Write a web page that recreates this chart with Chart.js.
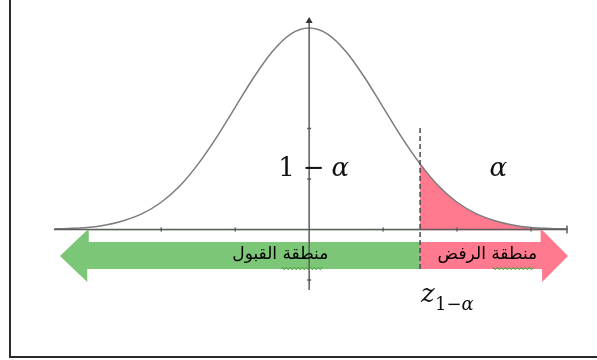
<!DOCTYPE html>
<html>
<head>
<meta charset="utf-8">
<script src="https://cdn.jsdelivr.net/npm/chart.js@4/dist/chart.umd.min.js"></script>
<style>
  html, body { margin: 0; padding: 0; background: #fff; }
  #wrap { width: 597px; height: 360px; }
</style>
</head>
<body>
<div id="wrap"><canvas id="normal-chart"></canvas></div>
<script>
  // curve heights read at quarter steps of z
  const zValues = [-3.5, -3.25, -3, -2.75, -2.5, -2.25, -2, -1.75, -1.5, -1.25, -1, -0.75, -0.5, -0.25,
    0, 0.25, 0.5, 0.75, 1, 1.25, 1.5, 1.75, 2, 2.25, 2.5, 2.75, 3, 3.25, 3.5];
  const density = [0.001, 0.002, 0.004, 0.009, 0.018, 0.032, 0.054, 0.086, 0.130, 0.183, 0.242, 0.301, 0.352, 0.387,
    0.399, 0.387, 0.352, 0.301, 0.242, 0.183, 0.130, 0.086, 0.054, 0.032, 0.018, 0.009, 0.004, 0.002, 0.001];
  const xTicks = [-2, -1, 1, 2, 3];
  const yTicks = [-0.1, 0.1, 0.2];
  const criticalZ = 1.5;
  const acceptLabel = "منطقة القبول";
  const rejectLabel = "منطقة الرفض";

  const GREEN = "rgb(124,198,120)";
  const PINK = "rgb(255,121,143)";
  const AXIS = "#5e5e5e";

  const curvePoints = zValues.map((z, i) => ({ x: z, y: density[i] }));
  const tailPoints = curvePoints.filter(p => p.x >= criticalZ);

  function squiggle(ctx, x0, x1, y) {
    ctx.beginPath();
    let up = true;
    ctx.moveTo(x0, y);
    for (let x = x0; x <= x1; x += 2) {
      ctx.lineTo(x, up ? y - 1.3 : y + 1.3);
      up = !up;
    }
    ctx.strokeStyle = "rgb(70,160,60)";
    ctx.lineWidth = 1;
    ctx.stroke();
  }

  // draws pieces left to right, each with its own font
  function runText(ctx, parts, x, y) {
    parts.forEach(([text, font, gap]) => {
      ctx.font = font;
      ctx.fillText(text, x, y);
      x += ctx.measureText(text).width + (gap || 0);
    });
  }

  const regionsPlugin = {
    id: "regions",
    beforeDraw(chart) {
      const ctx = chart.ctx;
      ctx.save();
      ctx.fillStyle = "#fff";
      ctx.fillRect(0, 0, chart.width, chart.height);
      ctx.strokeStyle = "#2a2a2a";
      ctx.lineWidth = 2;
      ctx.beginPath();
      ctx.moveTo(10, 0);
      ctx.lineTo(10, 357);
      ctx.lineTo(chart.width, 357);
      ctx.stroke();
      ctx.restore();
    },
    beforeDatasetsDraw(chart) {
      const ctx = chart.ctx;
      const xs = chart.scales.x, ys = chart.scales.y;
      const axisY = ys.getPixelForValue(0);
      const cut = xs.getPixelForValue(criticalZ);
      const leftTip = xs.getPixelForValue(-3.37), leftBase = xs.getPixelForValue(-3);
      const rightTip = xs.getPixelForValue(3.5), rightBase = xs.getPixelForValue(3.15);
      const headTop = axisY + 0.5, headBot = axisY + 52.5, mid = axisY + 26.5;
      const shaftTop = axisY + 1, shaftBot = axisY + 39.5;
      ctx.save();
      // acceptance arrow, pointing left
      ctx.fillStyle = GREEN;
      ctx.beginPath();
      ctx.moveTo(leftTip, mid);
      ctx.lineTo(leftBase, headTop);
      ctx.lineTo(leftBase, shaftTop);
      ctx.lineTo(cut, shaftTop);
      ctx.lineTo(cut, shaftBot);
      ctx.lineTo(leftBase, shaftBot);
      ctx.lineTo(leftBase, headBot);
      ctx.closePath();
      ctx.fill();
      // rejection arrow, pointing right
      ctx.fillStyle = PINK;
      ctx.beginPath();
      ctx.moveTo(rightTip, mid);
      ctx.lineTo(rightBase, headTop);
      ctx.lineTo(rightBase, shaftTop);
      ctx.lineTo(cut, shaftTop);
      ctx.lineTo(cut, shaftBot);
      ctx.lineTo(rightBase, shaftBot);
      ctx.lineTo(rightBase, headBot);
      ctx.closePath();
      ctx.fill();
      // white strip along the top of both shafts
      ctx.fillStyle = "#fff";
      ctx.fillRect(leftBase + 1.5, axisY + 1, rightBase - leftBase - 3, 11.5);
      ctx.restore();
    },
    afterDatasetsDraw(chart) {
      const ctx = chart.ctx;
      const xs = chart.scales.x, ys = chart.scales.y;
      const area = chart.chartArea;
      const axisY = ys.getPixelForValue(0);
      const axisX = xs.getPixelForValue(0);
      const cut = xs.getPixelForValue(criticalZ);
      ctx.save();
      ctx.strokeStyle = AXIS;
      ctx.lineWidth = 1.5;
      // horizontal axis with ticks
      ctx.beginPath();
      ctx.moveTo(area.left, axisY);
      ctx.lineTo(area.right - 1, axisY);
      ctx.moveTo(area.right - 1, axisY - 4);
      ctx.lineTo(area.right - 1, axisY + 4);
      xTicks.forEach(t => {
        const x = xs.getPixelForValue(t);
        ctx.moveTo(x, axisY - 2);
        ctx.lineTo(x, axisY + 2);
      });
      ctx.stroke();
      // vertical axis with ticks and arrow head
      ctx.beginPath();
      ctx.moveTo(axisX, ys.getPixelForValue(-0.12));
      ctx.lineTo(axisX, area.top + 5);
      yTicks.forEach(t => {
        const y = ys.getPixelForValue(t);
        ctx.moveTo(axisX - 2, y);
        ctx.lineTo(axisX + 2, y);
      });
      ctx.stroke();
      ctx.fillStyle = "#333";
      ctx.beginPath();
      ctx.moveTo(axisX, area.top);
      ctx.lineTo(axisX - 3.5, area.top + 6);
      ctx.lineTo(axisX + 3.5, area.top + 6);
      ctx.closePath();
      ctx.fill();
      // critical value marker
      ctx.setLineDash([5, 3]);
      ctx.strokeStyle = "#4a4a4a";
      ctx.beginPath();
      ctx.moveTo(cut, ys.getPixelForValue(0.201));
      ctx.lineTo(cut, axisY + 39.5);
      ctx.stroke();
      ctx.setLineDash([]);

      // region names
      ctx.fillStyle = "#000";
      ctx.font = "17px 'DejaVu Sans'";
      ctx.textAlign = "center";
      ctx.textBaseline = "middle";
      ctx.direction = "rtl";
      const accX = xs.getPixelForValue(-0.39), rejX = xs.getPixelForValue(2.41);
      ctx.fillText(acceptLabel, accX, axisY + 25);
      ctx.fillText(rejectLabel, rejX, axisY + 25);
      ctx.direction = "ltr";
      squiggle(ctx, accX + 2, accX + 43, axisY + 39);
      squiggle(ctx, rejX + 6, rejX + 46, axisY + 39);

      // probabilities and critical value
      ctx.fillStyle = "#111";
      ctx.textAlign = "left";
      ctx.textBaseline = "alphabetic";
      const probY = ys.getPixelForValue(0.106);
      runText(ctx, [
        ["1", "26px 'DejaVu Serif'", 8],
        ["\u2212", "26px 'DejaVu Serif'", 7],
        ["\u03b1", "italic 26px 'DejaVu Serif'"]
      ], axisX - 31, probY);
      ctx.font = "italic 26px 'DejaVu Serif'";
      ctx.fillText("\u03b1", xs.getPixelForValue(2.44), probY);
      runText(ctx, [
        ["z", "italic 26px 'DejaVu Serif'", 1]
      ], cut + 1, axisY + 72);
      runText(ctx, [
        ["1", "18px 'DejaVu Serif'", 0],
        ["\u2212", "18px 'DejaVu Serif'", 0],
        ["\u03b1", "italic 18px 'DejaVu Serif'"]
      ], cut + 15, axisY + 80);
      ctx.restore();
    }
  };

  new Chart(document.getElementById("normal-chart"), {
    type: "scatter",
    data: {
      datasets: [
        {
          data: curvePoints,
          showLine: true,
          borderColor: "#7c7c7c",
          borderWidth: 1.5,
          pointRadius: 0,
          cubicInterpolationMode: "monotone",
          fill: false
        },
        {
          data: tailPoints,
          showLine: true,
          borderWidth: 0,
          borderColor: "rgba(0,0,0,0)",
          backgroundColor: PINK,
          pointRadius: 0,
          cubicInterpolationMode: "monotone",
          fill: "origin"
        }
      ]
    },
    options: {
      responsive: true,
      maintainAspectRatio: false,
      animation: false,
      layout: { padding: { left: 54, right: 29, top: 17, bottom: 70 } },
      scales: {
        x: { type: "linear", min: -3.45, max: 3.5, display: false },
        y: { min: -0.1198, max: 0.4208, display: false }
      },
      plugins: {
        legend: { display: false },
        tooltip: { enabled: false }
      }
    },
    plugins: [regionsPlugin]
  });
</script>
</body>
</html>
